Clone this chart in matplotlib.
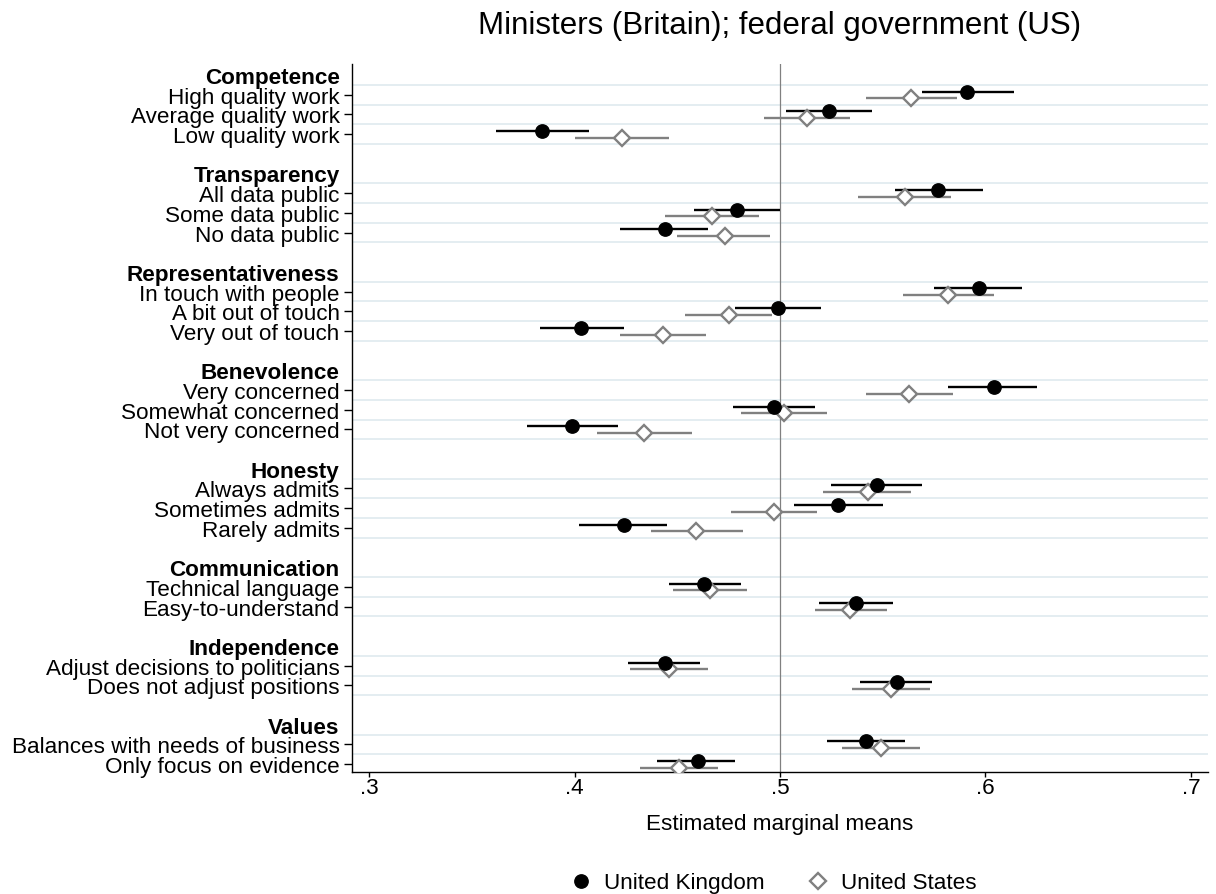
import matplotlib
matplotlib.use("Agg")
import matplotlib.pyplot as plt
from matplotlib.lines import Line2D

# attribute groups and levels (top to bottom)
groups = ["Competence", "Transparency", "Representativeness", "Benevolence",
          "Honesty", "Communication", "Independence", "Values"]
levels = [
    ["High quality work", "Average quality work", "Low quality work"],
    ["All data public", "Some data public", "No data public"],
    ["In touch with people", "A bit out of touch", "Very out of touch"],
    ["Very concerned", "Somewhat concerned", "Not very concerned"],
    ["Always admits", "Sometimes admits", "Rarely admits"],
    ["Technical language", "Easy-to-understand"],
    ["Adjust decisions to politicians", "Does not adjust positions"],
    ["Balances with needs of business", "Only focus on evidence"],
]

# marginal means with 95% CIs, in level order
uk_est = [0.591, 0.524, 0.384, 0.577, 0.479, 0.444, 0.597, 0.499, 0.403,
          0.604, 0.497, 0.399, 0.547, 0.528, 0.424, 0.463, 0.537, 0.444,
          0.557, 0.542, 0.460]
uk_lo = [0.569, 0.503, 0.362, 0.556, 0.458, 0.422, 0.575, 0.478, 0.383,
         0.582, 0.477, 0.377, 0.525, 0.507, 0.402, 0.446, 0.519, 0.426,
         0.539, 0.523, 0.440]
uk_hi = [0.614, 0.545, 0.407, 0.599, 0.500, 0.465, 0.618, 0.520, 0.424,
         0.625, 0.517, 0.421, 0.569, 0.550, 0.445, 0.481, 0.555, 0.461,
         0.574, 0.561, 0.478]
us_est = [0.564, 0.513, 0.423, 0.561, 0.467, 0.473, 0.582, 0.475, 0.443,
          0.563, 0.502, 0.434, 0.543, 0.497, 0.459, 0.466, 0.534, 0.446,
          0.554, 0.549, 0.451]
us_lo = [0.542, 0.492, 0.400, 0.538, 0.444, 0.450, 0.560, 0.454, 0.422,
         0.542, 0.481, 0.411, 0.521, 0.476, 0.437, 0.448, 0.517, 0.427,
         0.535, 0.530, 0.432]
us_hi = [0.586, 0.534, 0.446, 0.583, 0.490, 0.495, 0.604, 0.496, 0.464,
         0.584, 0.523, 0.457, 0.564, 0.518, 0.482, 0.484, 0.552, 0.465,
         0.573, 0.568, 0.470]

xticks = [0.3, 0.4, 0.5, 0.6, 0.7]
xtick_labels = [".3", ".4", ".5", ".6", ".7"]

plt.rcParams["font.family"] = ["Liberation Sans", "DejaVu Sans"]

# row layout: header, levels, blank gap
row_pos, row_labels, is_header, item_rows = [], [], [], []
r = 0
for g, levs in zip(groups, levels):
    row_pos.append(r)
    row_labels.append(g)
    is_header.append(True)
    r += 1
    for lv in levs:
        row_pos.append(r)
        row_labels.append(lv)
        is_header.append(False)
        item_rows.append(r)
        r += 1
    r += 1
last_row = item_rows[-1]

fig = plt.figure(figsize=(12.16, 8.95), dpi=100)
ax = fig.add_axes([0.2895, 0.1363, 0.7039, 0.7911])

# light gridlines around each level
for y in item_rows:
    for yy in (y - 0.5, y + 0.5):
        ax.axhline(yy, color="#e4edf1", lw=1.4, zorder=0)

ax.axvline(0.5, color="#808080", lw=0.9, zorder=1)

uk_y = [y - 0.16 for y in item_rows]
us_y = [y + 0.18 for y in item_rows]

ax.hlines(uk_y, uk_lo, uk_hi, color="black", lw=1.7, zorder=2)
ax.hlines(us_y, us_lo, us_hi, color="#808080", lw=1.7, zorder=2)
ax.plot(us_est, us_y, linestyle="none", marker="D", markersize=7.8,
        markerfacecolor="white", markeredgecolor="#808080",
        markeredgewidth=1.7, zorder=3)
ax.plot(uk_est, uk_y, linestyle="none", marker="o", markersize=9.6,
        color="black", zorder=4)

ax.set_xlim(0.2917, 0.7083)
ax.set_ylim(last_row + 0.4, -0.56)

ax.set_yticks(row_pos)
ax.set_yticklabels(row_labels, fontsize=16.2)
for tick, lab, hdr in zip(ax.yaxis.get_major_ticks(), ax.get_yticklabels(), is_header):
    if hdr:
        tick.tick1line.set_visible(False)
        lab.set_fontweight("bold")
ax.tick_params(axis="y", length=6, width=1, pad=3)

ax.set_xticks(xticks)
ax.set_xticklabels(xtick_labels, fontsize=16.2)
ax.tick_params(axis="x", length=3.5, width=1, pad=0)

for side in ("top", "right"):
    ax.spines[side].set_visible(False)
for side in ("left", "bottom"):
    ax.spines[side].set_linewidth(1.0)

ax.set_xlabel("Estimated marginal means", fontsize=16.2, labelpad=11)
fig.text(780 / 1216, 1 - 26 / 895, "Ministers (Britain); federal government (US)",
         ha="center", va="center", fontsize=22.5)

handles = [
    Line2D([], [], linestyle="none", marker="o", markersize=9.6, color="black"),
    Line2D([], [], linestyle="none", marker="D", markersize=7.8,
           markerfacecolor="white", markeredgecolor="#808080", markeredgewidth=1.7),
]
fig.legend(handles, ["United Kingdom", "United States"], loc="center",
           bbox_to_anchor=(772 / 1216, 1 - 884 / 895), ncol=2, frameon=False,
           fontsize=16.2, handlelength=1.2, handletextpad=0.4, columnspacing=1.8)

fig.savefig("out.png", dpi=100)
